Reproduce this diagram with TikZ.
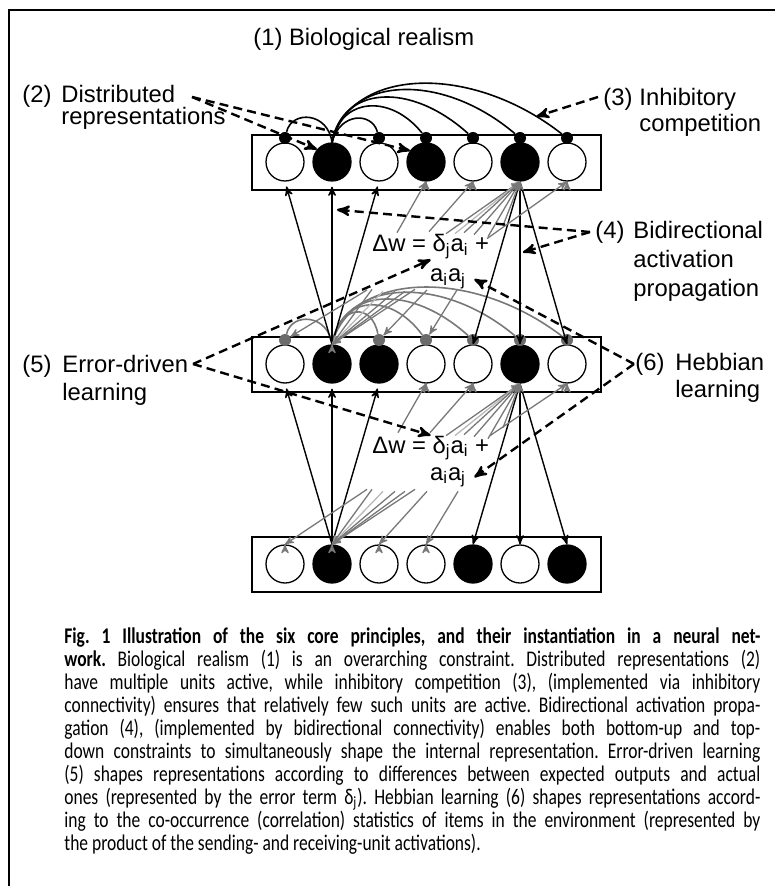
\documentclass[tikz,border=0pt]{standalone}
\usepackage{fontspec}
\setmainfont{Liberation Sans}
\newfontfamily\capfont[FakeStretch=0.78]{Carlito}
\usetikzlibrary{calc,arrows}
\definecolor{hebbgray}{gray}{0.47}
\definecolor{dotgray}{gray}{0.42}

\begin{document}
\begin{tikzpicture}[
        %We set the scale (one unit is one pixel of the figure) and define some styles
        x=0.5pt, y=0.5pt,
        layer/.style={draw, line width=0.65pt, minimum width=174.5pt, minimum height=27.5pt, inner sep=0pt},
        unit/.style={circle, draw, fill=white, line width=0.65pt, minimum size=19pt, inner sep=0pt},
        active/.style={unit, fill=black},
        inhib dot/.style={circle, fill=black, minimum size=6pt, inner sep=0pt},
        hebb dot/.style={inhib dot, fill=dotgray},
        act line/.style={->, >=stealth', line width=0.7pt},
        hebb line/.style={<-, >=stealth', line width=0.65pt, hebbgray},
        inhib line/.style={line width=0.8pt},
        note line/.style={->, >=stealth', line width=1.2pt, dash pattern=on 4.5pt off 2.6pt},
        tag/.style={font=\fontsize{11.9}{13}\selectfont, inner sep=0pt, anchor=base west},
        every node/.style={color=black,},
    ]
    % frame of the figure
    \useasboundingbox (0,0) rectangle (775,-886);
    \draw[line width=0.75pt] (9,-886) -- (9,-10) -- (775,-10);

    % the three layers
    \node[layer] (top) at (426.5,-162.5) {};
    \node[layer] (mid) at (426.5,-364.5) {};
    \node[layer] (bot) at (426.5,-564.5) {};

    % units of the top layer
    \node[unit]   (t1) at (285,-162) {};
    \node[active] (t2) at (332,-162) {};
    \node[unit]   (t3) at (379,-162) {};
    \node[active] (t4) at (426,-162) {};
    \node[unit]   (t5) at (473,-162) {};
    \node[active] (t6) at (520,-162) {};
    \node[unit]   (t7) at (567,-162) {};
    % units of the middle layer
    \node[unit]   (m1) at (285,-364) {};
    \node[active] (m2) at (332,-364) {};
    \node[active] (m3) at (379,-364) {};
    \node[unit]   (m4) at (426,-364) {};
    \node[unit]   (m5) at (473,-364) {};
    \node[active] (m6) at (520,-364) {};
    \node[unit]   (m7) at (567,-364) {};
    % units of the bottom layer
    \node[unit]   (b1) at (285,-564) {};
    \node[active] (b2) at (332,-564) {};
    \node[unit]   (b3) at (379,-564) {};
    \node[unit]   (b4) at (426,-564) {};
    \node[active] (b5) at (473,-564) {};
    \node[unit]   (b6) at (520,-564) {};
    \node[active] (b7) at (567,-564) {};

    % inhibitory synapses
    \node[inhib dot] (td1) at (285,-138) {};
    \node[inhib dot] (td3) at (379,-138) {};
    \node[inhib dot] (td4) at (426,-138) {};
    \node[inhib dot] (td5) at (473,-138) {};
    \node[inhib dot] (td6) at (520,-138) {};
    \node[inhib dot] (td7) at (567,-138) {};
    \node[hebb dot] (md1) at (285,-340) {};
    \node[hebb dot] (md3) at (379,-340) {};
    \node[hebb dot] (md4) at (426,-340) {};
    \node[hebb dot] (md5) at (473,-340) {};
    \node[hebb dot] (md6) at (520,-340) {};
    \node[hebb dot] (md7) at (567,-340) {};

    % inhibitory connectivity
    \draw[inhib line] (t2.north) .. controls (328,-112) and (292,-110) .. (td1);
    \draw[inhib line] (t2.north) .. controls (340,-112) and (372,-112) .. (td3);
    \draw[inhib line] (t2.north) .. controls (340,-98) and (390,-93) .. (td4);
    \draw[inhib line] (t2.north) .. controls (342,-86) and (410,-81) .. (td5);
    \draw[inhib line] (t2.north) .. controls (345,-77) and (440,-70) .. (td6);
    \draw[inhib line] (t2.north) .. controls (350,-68) and (470,-62) .. (td7) coordinate[pos=0.91] (inh);
    \draw[inhib line, hebbgray] (m2.north) .. controls (328,-314) and (292,-312) .. (md1);
    \draw[inhib line, hebbgray] (m2.north) .. controls (340,-303) and (372,-303) .. (md3);
    \draw[inhib line, hebbgray] (m2.north) .. controls (340,-296) and (390,-291) .. (md4);
    \draw[inhib line, hebbgray] (m2.north) .. controls (342,-288) and (410,-283) .. (md5);
    \draw[inhib line, hebbgray] (m2.north) .. controls (345,-280) and (440,-273) .. (md6);
    \draw[inhib line, hebbgray] (m2.north) .. controls (350,-273) and (470,-266) .. (md7);

    % bottom-up and top-down activation
    \draw[act line, shorten >=2.5pt] (b2.north) -- (m1.south);
    \draw[act line, shorten >=2.5pt] (b2.north) -- (m2.south);
    \draw[act line, shorten >=2.5pt] (b2.north) -- (m3.south);
    \draw[act line] (m6.south) -- (b5.north);
    \draw[act line] (m6.south) -- (b6.north);
    \draw[act line] (m6.south) -- (b7.north);
    \draw[act line, shorten >=2.5pt] (m2.north) -- (t1.south);
    \draw[act line, shorten >=2.5pt] (m2.north) -- coordinate[pos=0.83] (up2) (t2.south);
    \draw[act line, shorten >=2.5pt] (m2.north) -- (t3.south);
    \draw[act line] (t6.south) -- (m5.north);
    \draw[act line] (t6.south) -- coordinate[pos=0.44] (dn6) (m6.north);
    \draw[act line] (t6.south) -- (m7.north);

    % learning rules
    \node[tag] (fup) at (372,-252) {Δw = δ\textsubscript{j}a\textsubscript{i} +};
    \node[tag, anchor=base, inner sep=4pt] (aup) at (448,-282) {a\textsubscript{i}a\textsubscript{j}};
    \node[tag] (flow) at (372,-453) {Δw = δ\textsubscript{j}a\textsubscript{i} +};
    \node[tag, anchor=base, inner sep=4pt] (alow) at (448,-480) {a\textsubscript{i}a\textsubscript{j}};

    % weight changes
    \draw[hebb line] (t4.south) edge +(-29,-51);
    \draw[hebb line] (t5.south) edge +(-44,-50);
    \draw[hebb line] (t6.south) edge +(-74,-52) edge[gray!55] +(-65,-52) edge +(-56,-51)
        edge +(-46,-53) edge +(-32,-55) edge +(-17,-44);
    \draw[hebb line] (t7.south) edge +(-80,-57);
    \draw[hebb line] (md1) edge +(82,50);
    \draw[hebb line] (m2.north) edge +(40,55) edge[gray!55] +(51,53) edge +(63,53)
        edge +(73,53) edge +(83,55);
    \draw[hebb line] (md3) edge +(48,50);
    \draw[hebb line] (md4) edge +(31,50);
    \draw[hebb line] (m4.south) edge +(-28,-49);
    \draw[hebb line] (m5.south) edge +(-43,-49);
    \draw[hebb line] (m6.south) edge +(-74,-52) edge[gray!55] +(-65,-52) edge +(-56,-51)
        edge +(-46,-53) edge +(-32,-55) edge +(-17,-44);
    \draw[hebb line] (m7.south) edge +(-77,-52);
    \draw[hebb line] (b1.north) edge +(82,55);
    \draw[hebb line] (b2.north) edge +(40,55) edge[gray!55] +(51,53) edge +(63,53)
        edge +(73,53) edge +(83,55);
    \draw[hebb line] (b3.north) edge +(48,53);
    \draw[hebb line] (b4.north) edge +(32,53);

    % the six principles
    \node[tag] (real) at (253,-46) {(1) Biological realism};
    \node[tag] (dist) at (22,-103) {\begin{tabular}[t]{@{}p{19.5pt}@{}l@{}}(2) & Distributed\\[-2pt] & representations\end{tabular}};
    \node[tag] (comp) at (603,-106) {\begin{tabular}[t]{@{}p{18pt}@{}l@{}}(3) & Inhibitory\\ & competition\end{tabular}};
    \node[tag] (bidir) at (595,-239) {\begin{tabular}[t]{@{}p{19pt}@{}l@{}}(4) & Bidirectional\\[1.5pt] & activation\\[1.5pt] & propagation\end{tabular}};
    \node[tag] (error) at (22,-373) {\begin{tabular}[t]{@{}p{20pt}@{}l@{}}(5) & Error-driven\\[0.5pt] & learning\end{tabular}};
    \node[tag] (hebb) at (635,-371) {\begin{tabular}[t]{@{}p{20pt}@{}l@{}}(6) & Hebbian\\[0.5pt] & learning\end{tabular}};

    % pointers from the principles
    \coordinate (p2) at (192,-97);
    \coordinate (p3) at (598,-97);
    \coordinate (p4) at (590,-232);
    \coordinate (p5) at (193,-364);
    \coordinate (p6) at (634,-364);
    \draw[note line] (p2) -- (t2.140);
    \draw[note line] (p2) -- (t4.145);
    \draw[note line] (p3) -- (inh);
    \draw[note line, shorten >=2.5pt] (p4) -- (up2);
    \draw[note line, shorten >=1.5pt] (p4) -- (dn6);
    \draw[note line] (p5) -- (fup.south);
    \draw[note line] (p5) -- (flow.north);
    \draw[note line] (p6) -- (aup.east);
    \draw[note line] (p6) -- (alow.east);

    % caption
    \node[anchor=north west, inner sep=0pt, text width=348pt, align=justify,
        font=\capfont\fontsize{11.2}{11.5}\selectfont] (caption) at (64,-627) {\tolerance=10000\hyphenpenalty=10000\frenchspacing
        {\bfseries Fig.~1 Illustration of the six core principles, and their instantiation in a neural net-\linebreak
        work.} Biological realism (1) is an overarching constraint. Distributed representations (2)\linebreak
        have multiple units active, while inhibitory competition (3), (implemented via inhibitory\linebreak
        connectivity) ensures that relatively few such units are active. Bidirectional activation propa-\linebreak
        gation (4), (implemented by bidirectional connectivity) enables both bottom-up and top-\linebreak
        down constraints to simultaneously shape the internal representation. Error-driven learning\linebreak
        (5) shapes representations according to differences between expected outputs and actual\linebreak
        ones (represented by the error term δ\textsubscript{j}). Hebbian learning (6) shapes representations accord-\linebreak
        ing to the co-occurrence (correlation) statistics of items in the environment (represented by\linebreak
        the product of the sending- and receiving-unit activations).};
\end{tikzpicture}
\end{document}
